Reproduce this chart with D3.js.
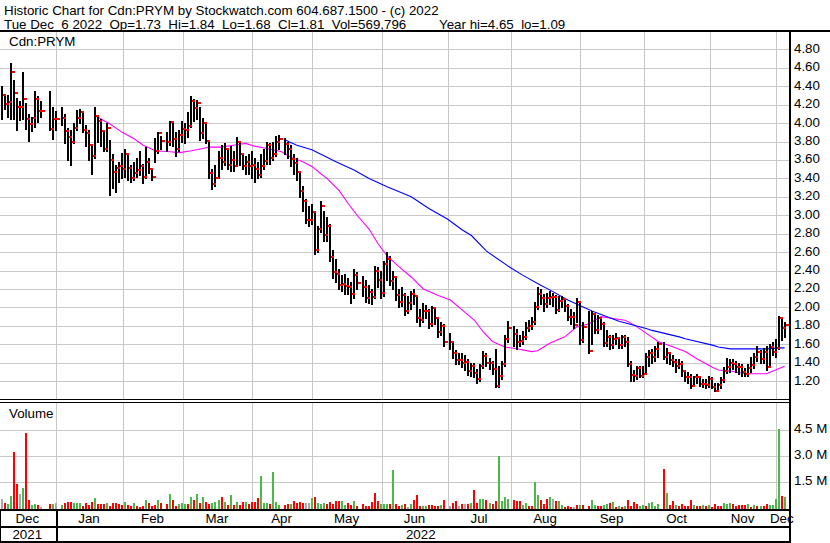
<!DOCTYPE html>
<html><head><meta charset="utf-8">
<script src="https://cdn.jsdelivr.net/npm/d3@7"></script>
<style>
html,body{margin:0;padding:0;background:#fff;}
svg{display:block;}
text{font-family:"Liberation Sans",Arial,sans-serif;font-size:13.33px;fill:#000;white-space:pre;}
</style></head><body>
<svg id="chart" width="830" height="543"></svg>
<script>
// ---------- texts ----------
const titleLine1 = "Historic Chart for Cdn:PRYM by Stockwatch.com 604.687.1500 - (c) 2022";
const titleLine2a = "Tue Dec  6 2022  Op=1.73  Hi=1.84  Lo=1.68  Cl=1.81  Vol=569,796";
const titleLine2b = "Year hi=4.65  lo=1.09";
const symbolLabel = "Cdn:PRYM";
const volumeLabel = "Volume";
const firstDay = "2021-12-07", lastDay = "2022-12-06";
const priceTicks = [4.80,4.60,4.40,4.20,4.00,3.80,3.60,3.40,3.20,3.00,2.80,2.60,2.40,2.20,2.00,1.80,1.60,1.40,1.20];
const volTicks = [1.5e6,3.0e6,4.5e6];
const volTickLabels = ["1.5 M","3.0 M","4.5 M"];
const years = ["2021","2022"];

// ---------- daily data, one entry per weekday (null = market holiday) ----------
const closeDec21=[4.31,4.21,4.23,4.55,4.33,4.17,4.17,4.26,4.05,3.99,4.06,4.26,4.13,4.13,null,null,3.94,4.05,4.05];
const closeJan=[null,4.06,3.91,3.85,3.80,3.95,4.06,4.12,3.93,3.89,3.76,3.64,4.08,4.02,3.91,3.72,3.95,3.60,3.47,3.51,3.54];
const closeFeb=[3.50,3.66,3.51,3.40,3.46,3.49,3.54,3.41,3.58,3.50,3.41,3.70,3.89,3.81,null,3.80,4.01,3.83,3.72,3.87];
const closeMar=[3.94,3.92,3.97,4.24,4.16,4.22,3.89,4.00,3.81,3.46,3.34,3.40,3.62,3.58,3.72,3.55,3.60,3.54,3.80,3.67,3.54,3.58,3.53];
const closeApr=[3.55,3.50,3.44,3.54,3.59,3.76,3.62,3.66,3.79,3.83,null,3.77,3.72,3.61,3.57,3.47,3.26,3.16,2.95,2.95,3.03];
const closeMay=[2.62,2.85,3.10,2.79,2.88,2.55,2.38,2.36,2.24,2.25,2.23,2.22,2.14,2.35,2.27,null,2.22,2.10,2.17,2.11,2.40,2.30];
const closeJun=[2.16,2.47,2.52,2.29,2.33,2.13,2.06,2.13,1.96,2.05,2.14,2.12,1.89,1.86,1.96,1.96,1.82,1.99,1.89,1.73,1.80,1.62];
const closeJul=[null,1.62,1.50,1.43,1.43,1.40,1.41,1.31,1.36,1.29,1.22,1.36,1.47,1.40,1.40,1.33,1.15,1.25,1.38,1.66,1.78];
const closeAug=[null,1.71,1.62,1.63,1.68,1.78,1.80,1.84,2.00,2.15,2.10,2.04,2.10,2.11,2.11,1.97,2.07,2.09,2.01,1.90,1.90,1.81,2.06];
const closeSep=[1.65,1.79,null,1.53,1.93,1.75,1.88,1.82,1.61,1.68,1.59,1.66,1.67,1.59,1.68,1.62,1.39,1.27,1.25,1.34,1.26,1.28];
const closeOct=[1.46,1.50,1.46,1.55,1.60,null,1.46,1.50,1.43,1.41,1.36,1.39,1.31,1.24,1.24,1.15,1.24,1.24,1.17,1.17,1.16];
const closeNov=[1.22,1.14,1.09,1.16,1.21,1.31,1.35,1.40,1.39,1.35,1.35,1.30,1.28,1.34,1.37,1.46,1.52,1.44,1.52,1.35,1.57,1.52];
const closeDec22=[1.56,1.89,1.78,1.81];

const highDec21=[4.40,4.29,4.30,4.65,4.47,4.27,4.24,4.56,4.22,4.10,4.07,4.35,4.29,4.24,null,null,4.35,4.18,4.13];
const highJan=[null,4.18,4.10,3.95,3.92,4.00,4.14,4.15,4.12,3.98,3.92,3.75,4.18,4.08,4.05,3.92,4.00,3.82,3.66,3.55,3.58];
const highFeb=[3.68,3.72,3.67,3.55,3.58,3.62,3.70,3.56,3.74,3.62,3.50,3.84,3.90,3.86,null,3.90,4.02,4.00,3.90,3.92];
const highMar=[4.02,4.00,4.12,4.29,4.26,4.25,4.18,4.06,4.00,3.82,3.50,3.55,3.70,3.76,3.78,3.72,3.75,3.70,3.85,3.78,3.68,3.64,3.66];
const highApr=[3.70,3.62,3.58,3.66,3.72,3.80,3.78,3.80,3.86,3.87,null,3.84,3.80,3.76,3.66,3.62,3.48,3.32,3.18,3.10,3.12];
const highMay=[3.03,2.88,3.15,3.05,2.98,2.90,2.62,2.52,2.42,2.35,2.36,2.32,2.28,2.42,2.38,null,2.34,2.30,2.24,2.20,2.45,2.44];
const highJun=[2.40,2.50,2.60,2.56,2.40,2.34,2.20,2.22,2.16,2.12,2.18,2.20,2.12,1.98,2.05,2.03,1.98,2.02,2.00,1.90,1.84,1.82];
const highJul=[null,1.72,1.64,1.54,1.50,1.50,1.48,1.44,1.40,1.40,1.33,1.38,1.53,1.50,1.45,1.42,1.55,1.36,1.42,1.70,1.85];
const highAug=[null,1.80,1.76,1.70,1.74,1.84,1.86,1.90,2.06,2.22,2.20,2.14,2.16,2.18,2.16,2.13,2.12,2.12,2.10,2.04,1.98,1.95,2.10];
const highSep=[2.06,1.84,null,1.96,1.96,1.92,1.92,1.90,1.84,1.75,1.70,1.70,1.72,1.68,1.70,1.70,1.68,1.42,1.32,1.36,1.36,1.36];
const highOct=[1.50,1.54,1.55,1.58,1.62,null,1.62,1.56,1.52,1.48,1.44,1.44,1.42,1.32,1.30,1.28,1.26,1.28,1.26,1.22,1.22];
const highNov=[1.25,1.24,1.18,1.18,1.24,1.35,1.45,1.44,1.44,1.42,1.40,1.38,1.34,1.38,1.46,1.50,1.58,1.54,1.56,1.58,1.60,1.62];
const highDec22=[1.66,1.91,1.90,1.84];

const lowDec21=[4.05,4.15,4.07,4.05,4.05,3.92,4.03,4.05,3.94,3.81,3.91,3.96,4.01,4.07,null,null,3.93,3.83,3.93];
const lowJan=[null,3.98,3.78,3.60,3.55,3.78,3.92,4.00,3.90,3.75,3.60,3.45,3.62,3.80,3.75,3.70,3.70,3.22,3.30,3.25,3.36];
const lowFeb=[3.40,3.42,3.38,3.36,3.38,3.42,3.44,3.35,3.40,3.46,3.38,3.58,3.68,3.72,null,3.70,3.76,3.75,3.64,3.70];
const lowMar=[3.80,3.78,3.85,3.96,4.02,4.05,3.82,3.84,3.78,3.40,3.28,3.32,3.40,3.50,3.55,3.50,3.48,3.48,3.56,3.55,3.50,3.45,3.45];
const lowApr=[3.40,3.36,3.40,3.42,3.50,3.56,3.56,3.60,3.64,3.72,null,3.66,3.62,3.54,3.45,3.38,3.20,3.05,2.92,2.88,2.90];
const lowMay=[2.58,2.60,2.82,2.72,2.72,2.50,2.32,2.28,2.20,2.18,2.15,2.14,2.05,2.10,2.20,null,2.12,2.06,2.05,2.04,2.10,2.22];
const lowJun=[2.10,2.12,2.30,2.24,2.20,2.08,2.00,2.02,1.92,1.94,1.98,2.04,1.84,1.80,1.84,1.88,1.78,1.80,1.82,1.68,1.70,1.58];
const lowJul=[null,1.55,1.45,1.38,1.38,1.35,1.32,1.27,1.26,1.24,1.18,1.20,1.34,1.36,1.33,1.28,1.14,1.14,1.22,1.36,1.62];
const lowAug=[null,1.58,1.55,1.58,1.60,1.66,1.74,1.76,1.82,1.98,2.04,1.96,2.00,2.04,2.02,1.94,1.96,2.00,1.96,1.86,1.82,1.78,1.84];
const lowSep=[1.60,1.62,null,1.50,1.60,1.72,1.72,1.76,1.58,1.58,1.55,1.56,1.60,1.56,1.56,1.58,1.36,1.20,1.20,1.22,1.24,1.24];
const lowOct=[1.28,1.36,1.40,1.42,1.46,null,1.44,1.40,1.38,1.36,1.30,1.34,1.26,1.20,1.18,1.13,1.15,1.18,1.15,1.14,1.12];
const lowNov=[1.14,1.12,1.09,1.10,1.12,1.19,1.29,1.30,1.33,1.30,1.28,1.26,1.25,1.26,1.30,1.34,1.42,1.40,1.40,1.32,1.36,1.48];
const lowDec22=[1.46,1.55,1.65,1.68];

// volume in thousands of shares
const volDec21=[520,290,230,690,3200,1350,800,1150,4300,460,190,250,150,60,null,null,230,230,290];
const volJan=[null,170,290,350,350,290,290,290,120,290,150,350,580,230,230,230,290,120,290,290,230];
const volFeb=[170,350,170,120,290,120,60,100,460,290,120,170,460,290,null,230,800,460,120,230];
const volMar=[290,230,230,630,460,800,290,630,350,230,290,350,460,630,350,170,750,170,350,170,350,350,230];
const volApr=[350,350,580,1850,290,290,230,2080,350,170,null,170,230,230,400,290,350,290,290,290,580];
const volMay=[630,290,230,290,230,350,230,400,400,400,170,290,170,400,120,null,230,120,120,350,870,400];
const volJun=[230,230,230,230,2200,230,120,170,230,60,230,460,750,120,120,120,170,170,120,120,170,460];
const volJul=[null,120,290,400,120,230,230,230,290,1040,290,520,520,460,290,230,400,3000,400,630,520];
const volAug=[null,460,400,400,170,290,120,120,1500,750,460,230,520,630,520,400,400,170,60,120,60,60,170];
const volSep=[170,170,null,120,460,170,120,120,170,230,290,350,60,120,60,120,460,120,350,230,120,170];
const volOct=[120,290,350,120,230,null,2250,870,170,400,170,120,230,120,100,460,170,120,120,170,120];
const volNov=[170,60,230,120,120,290,230,290,230,120,170,170,170,230,60,170,120,120,120,230,170,170];
const volDec22=[520,4560,690,630];

// volume bar colour: g = up, r = down, n = unchanged, - = holiday
const volDirDec21="nrggrrngrrggrn--rgn";
const volDirJan="-grrrgggrrrrgrrrgrrrr";
const volDirFeb="rgrrgrrrgrrrgr-rgrrg";
const volDirMar="ggrgrgrgrrgggrgrgrgrrgr";
const volDirApr="rrrgggrggg-rrgrrrrnng";
const volDirMay="rgggrrrrrggrrgr-rrrrrr";
const volDirJun="gggrgrrgrngrrrggrrrrgr";
const volDirJul="-nrrnrnrgrrggrgrrgggg";
const volDirAug="-rrrggrrggrrrgnrggrrrnr";
const volDirSep="gr-rggrrggrgrgrgrrrrgg";
const volDirOct="rgggg-rgrrgrrrrrgrrgr";
const volDirNov="grrrrgggrrrrrgrgrgrrgg";
const volDirDec22="ggrg";

// moving averages (weekday index, value)
const maShortIdx=[31,36,40,44,47,51,56,59,63,66,69,73,77,81,84,89,93,96,100,103,106,108,112,115,118,122,125,128,132,136,140,145,149,153,157,160,163,167,171,176,178,182,187,191,195,199,203,207,210,214,218,223,227,231,236,238,242,247,254,257,260];
const maShortVal=[4.08,3.99,3.90,3.83,3.76,3.70,3.69,3.68,3.70,3.72,3.74,3.74,3.76,3.78,3.75,3.72,3.69,3.63,3.58,3.53,3.45,3.40,3.27,3.13,3.00,2.85,2.69,2.56,2.44,2.33,2.20,2.13,2.08,1.97,1.86,1.73,1.63,1.57,1.55,1.52,1.53,1.61,1.68,1.79,1.82,1.90,1.88,1.86,1.81,1.72,1.63,1.57,1.52,1.44,1.35,1.32,1.31,1.28,1.28,1.32,1.36];
const maLongIdx=[94,98,103,111,117,122,128,136,142,148,153,156,161,169,173,179,182,188,196,205,214,216,225,227,236,238,242,254,259,260];
const maLongVal=[3.82,3.76,3.71,3.58,3.49,3.40,3.31,3.20,3.07,2.96,2.84,2.78,2.61,2.43,2.35,2.24,2.19,2.08,1.96,1.85,1.77,1.75,1.68,1.66,1.59,1.57,1.55,1.55,1.56,1.56];

// ---------- assemble ----------
const closes=[].concat(closeDec21,closeJan,closeFeb,closeMar,closeApr,closeMay,closeJun,closeJul,closeAug,closeSep,closeOct,closeNov,closeDec22);
const highs=[].concat(highDec21,highJan,highFeb,highMar,highApr,highMay,highJun,highJul,highAug,highSep,highOct,highNov,highDec22);
const lows=[].concat(lowDec21,lowJan,lowFeb,lowMar,lowApr,lowMay,lowJun,lowJul,lowAug,lowSep,lowOct,lowNov,lowDec22);
const vols=[].concat(volDec21,volJan,volFeb,volMar,volApr,volMay,volJun,volJul,volAug,volSep,volOct,volNov,volDec22);
const dirs=(volDirDec21+volDirJan+volDirFeb+volDirMar+volDirApr+volDirMay+volDirJun+volDirJul+volDirAug+volDirSep+volDirOct+volDirNov+volDirDec22).split("");

const parse=d3.timeParse("%Y-%m-%d");
const days=d3.timeDay.range(parse(firstDay), d3.timeDay.offset(parse(lastDay),1)).filter(d=>d.getDay()!==0&&d.getDay()!==6);

const svg=d3.select("#chart");
const PLOT_R=789;
const x=d3.scaleLinear().domain([0,days.length-1]).range([1.7,784.6]);
const y=d3.scaleLinear().domain([1.0,5.0]).range([399.5,31]);
const yv=d3.scaleLinear().domain([0,6e6]).range([508,403.5]);
const GRID="#c8c8c8";

svg.append("rect").attr("width",830).attr("height",543).attr("fill","#fff");

// month gridlines
const months=d3.timeMonth.range(new Date(2022,0,1), new Date(2022,11,2));
const gridX=months.map(m=>{
  let idx=0; days.forEach((d,i)=>{ if(d<=m) idx=i; });
  return Math.floor(x(idx)+1)+0.5;
});
const g=svg.append("g").attr("shape-rendering","crispEdges");
gridX.forEach(gx=>{
  g.append("line").attr("x1",gx).attr("x2",gx).attr("y1",31).attr("y2",399).attr("stroke",GRID);
  g.append("line").attr("x1",gx).attr("x2",gx).attr("y1",403).attr("y2",509).attr("stroke",GRID);
});
priceTicks.forEach(p=>{
  const yy=Math.round(y(p))+0.5;
  g.append("line").attr("x1",0).attr("x2",PLOT_R).attr("y1",yy).attr("y2",yy).attr("stroke",GRID);
});
volTicks.forEach(v=>{
  const yy=Math.round(yv(v))+0.5;
  g.append("line").attr("x1",0).attr("x2",PLOT_R).attr("y1",yy).attr("y2",yy).attr("stroke",GRID);
});

// moving averages
const line=d3.line().x(d=>x(d[0])).y(d=>y(d[1]));
svg.append("path").datum(maShortIdx.map((k,i)=>[k,maShortVal[i]]))
  .attr("d",line).attr("fill","none").attr("stroke","#ff00ff").attr("stroke-width",1.1);
svg.append("path").datum(maLongIdx.map((k,i)=>[k,maLongVal[i]]))
  .attr("d",line).attr("fill","none").attr("stroke","#0000ff").attr("stroke-width",1.1);

// price bars: black high-low lines first, red close ticks on top
const pb=svg.append("g").attr("shape-rendering","crispEdges");
const rb=svg.append("g").attr("shape-rendering","crispEdges");
closes.forEach((c,i)=>{
  if(c==null) return;
  const xi=Math.round(x(i));
  const yh=Math.round(y(highs[i])), yl=Math.round(y(lows[i]));
  pb.append("rect").attr("x",xi-1).attr("y",yh).attr("width",2).attr("height",Math.max(1,yl-yh+1)).attr("fill","#000");
  rb.append("rect").attr("x",xi+1).attr("y",Math.round(y(c))-1).attr("width",3).attr("height",2).attr("fill","#ff0000");
});

// volume bars
const colorOf={g:"#4cb84c",r:"#ff0000",n:"#a8a8a8"};
const vb=svg.append("g").attr("shape-rendering","crispEdges");
vols.forEach((v,i)=>{
  if(v==null) return;
  const xi=Math.round(x(i));
  const yt=Math.round(yv(v*1000));
  vb.append("rect").attr("x",xi-1).attr("y",yt).attr("width",2).attr("height",Math.max(1,509-yt)).attr("fill",colorOf[dirs[i]]||"#a8a8a8");
});

// texts
svg.append("text").attr("x",4).attr("y",15).text(titleLine1);
svg.append("text").attr("x",4).attr("y",28.5).text(titleLine2a);
svg.append("text").attr("x",439).attr("y",28.5).text(titleLine2b);
svg.append("text").attr("x",9).attr("y",46).text(symbolLabel);
svg.append("text").attr("x",9).attr("y",417.5).text(volumeLabel);
priceTicks.forEach(p=>{
  svg.append("text").attr("x",794).attr("y",y(p)+3.5).text(p.toFixed(2));
});
volTicks.forEach((v,i)=>{
  svg.append("text").attr("x",794).attr("y",yv(v)+3.5).text(volTickLabels[i]);
});
const fmt=d3.timeFormat("%b");
const bounds=[0].concat(gridX,[PLOT_R]);
const monthNames=[fmt(parse(firstDay))].concat(months.map(fmt));
monthNames.forEach((m,i)=>{
  svg.append("text").attr("x",(bounds[i]+bounds[i+1])/2-1).attr("y",523.3).attr("text-anchor","middle").text(m);
});
svg.append("text").attr("x",gridX[0]/2-1).attr("y",539).attr("text-anchor","middle").text(years[0]);
svg.append("text").attr("x",(gridX[0]+PLOT_R)/2-2).attr("y",539).attr("text-anchor","middle").text(years[1]);

// frame
const f=svg.append("g").attr("shape-rendering","crispEdges").attr("fill","#000");
f.append("rect").attr("x",0).attr("y",29.5).attr("width",830).attr("height",2);
f.append("rect").attr("x",0).attr("y",399).attr("width",PLOT_R+1).attr("height",1);
f.append("rect").attr("x",0).attr("y",402).attr("width",PLOT_R+1).attr("height",1);
f.append("rect").attr("x",0).attr("y",509).attr("width",PLOT_R+1).attr("height",2);
f.append("rect").attr("x",0).attr("y",525.5).attr("width",PLOT_R+1).attr("height",2);
f.append("rect").attr("x",0).attr("y",541).attr("width",PLOT_R+1).attr("height",2);
f.append("rect").attr("x",PLOT_R-0.5).attr("y",30).attr("width",2).attr("height",513);
f.append("rect").attr("x",0).attr("y",509).attr("width",1).attr("height",34);
f.append("rect").attr("x",Math.floor(gridX[0])-0.5).attr("y",509).attr("width",2).attr("height",33);
</script>
</body></html>
